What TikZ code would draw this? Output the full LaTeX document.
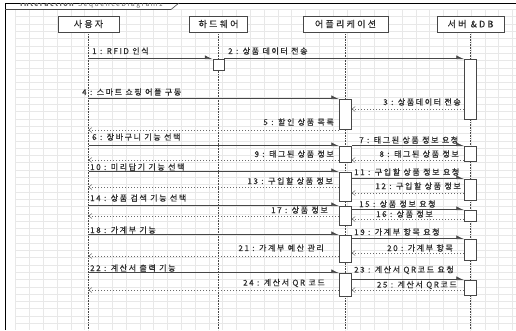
\documentclass[tikz,border=0pt]{standalone}
\usepackage{fontspec}
\setmainfont{Noto Sans CJK KR}
\newfontfamily\lblfont{Noto Sans CJK KR}[LetterSpace=20,FakeBold=0.5]
\newfontfamily\hdrfont{Noto Sans CJK KR}[LetterSpace=25,FakeBold=0.7]
\newfontfamily\ttlfont{Noto Sans CJK KR}[LetterSpace=20]
\usetikzlibrary{arrows.meta,fit}
\definecolor{gridc}{gray}{0.91}
\definecolor{linec}{gray}{0.28}
\definecolor{retc}{gray}{0.42}
\definecolor{txtc}{gray}{0.18}
\begin{document}
\begin{tikzpicture}[x=1pt,y=-1pt,
  hdr/.style={draw=linec, line width=0.8pt, fill=white, minimum height=16pt, inner sep=0pt,
    font=\hdrfont\fontsize{9}{10}\selectfont, text=txtc},
  life/.style={draw=linec, line width=0.6pt, dash pattern=on 0.8pt off 0.8pt},
  act/.style={draw=linec, line width=0.6pt, fill=white, inner sep=0pt},
  msg/.style={draw=linec, line width=0.6pt, -{Latex[length=7pt,width=7pt,harpoon]}},
  ret/.style={draw=retc, line width=0.5pt, dash pattern=on 1.5pt off 1.5pt, -{Straight Barb[length=3pt,width=5pt]}},
  lbl/.style={font=\lblfont\fontsize{8}{9}\selectfont, text=txtc, inner sep=0pt}
]
\useasboundingbox (0,0) rectangle (516,330);
\fill[white] (0,0) rectangle (516,330);
% grid
\foreach \i in {0,...,36} \draw[gridc, line width=0.4pt] (15.6+13.8*\i, 9.3) -- (15.6+13.8*\i, 330);
\foreach \j in {0,...,43} \draw[gridc, line width=0.4pt] (15.6, 9.3+7.3*\j) -- (516, 9.3+7.3*\j);
% frame
\draw[black, line width=0.8pt] (5,330) -- (5,3) -- (516,3);
\draw[linec, line width=0.6pt] (5,9.5) -- (171,9.5) -- (179,3);
\begin{scope}
  \clip (5,3.4) rectangle (516,330);
  \node[anchor=west, font=\ttlfont\fontsize{7}{8}\selectfont, text=black!60, inner sep=0pt] (title) at (20,4.2) {\textbf{Interaction} SequenceDiagram1};
\end{scope}
% headers
\node[hdr, minimum width=61pt] (U) at (88.5,24) {사용자};
\node[hdr, minimum width=58pt] (H) at (218.5,24) {하드웨어};
\node[hdr, minimum width=85pt] (A) at (345.5,24) {어플리케이션};
\node[hdr, minimum width=67pt] (S) at (470.5,24) {서버 \&DB};
\coordinate (bot) at (0,330);
\foreach \n in {U,H,A,S} \draw[life] (\n.south) -- (\n.south |- bot);
% activations
\node[act, fit={(213,59)(224,70)}] (H1) {};
\node[act, fit={(464.5,59)(476.5,119)}] (S1) {};
\node[act, fit={(339.5,99)(351.5,129)}] (A1) {};
\node[act, fit={(339.5,146)(351.5,162)}] (A2) {};
\node[act, fit={(464.5,146)(476.5,161)}] (S2) {};
\node[act, fit={(339.5,172)(351.5,201)}] (A3) {};
\node[act, fit={(464.5,179)(476.5,200)}] (S3) {};
\node[act, fit={(339.5,206)(351.5,225)}] (A4) {};
\node[act, fit={(464.5,210)(476.5,221)}] (S4) {};
\node[act, fit={(339.5,235)(351.5,262)}] (A5) {};
\node[act, fit={(464.5,239)(476.5,260)}] (S5) {};
\node[act, fit={(339.5,273)(351.5,296)}] (A6) {};
\node[act, fit={(464.5,280)(476.5,295)}] (S6) {};
% message levels
\coordinate (y3) at (0,109);
\coordinate (y5) at (0,130);
\coordinate (y8) at (0,160);
\coordinate (y12) at (0,193);
\coordinate (y13) at (0,187);
\coordinate (y16) at (0,219);
\coordinate (y17) at (0,216);
\coordinate (y20) at (0,253);
\coordinate (y21) at (0,256);
\coordinate (y24) at (0,290);
% messages
\draw[msg] (U |- H1.north west) -- (H1.north west);
\draw[msg] (H1.north east) -- (S1.north west);
\draw[ret] (S1.west |- y3) -- (A1.east |- y3);
\draw[msg] (U |- A1.north west) -- (A1.north west);
\draw[ret] (A1.west |- y5) -- (U |- y5);
\draw[msg] (U |- A2.north west) -- (A2.north west);
\draw[msg] (A2.north east) -- (S2.north west);
\draw[ret] (S2.west |- y8) -- (A2.east |- y8);
\draw[ret] (A2.west |- y8) -- (U |- y8);
\draw[msg] (U |- A3.north west) -- (A3.north west);
\draw[msg] (A3.east |- S3.north west) -- (S3.north west);
\draw[ret] (S3.west |- y12) -- (A3.east |- y12);
\draw[ret] (A3.west |- y13) -- (U |- y13);
\draw[msg] (U |- A4.north west) -- (A4.north west);
\draw[msg] (A4.east |- S4.north west) -- (S4.north west);
\draw[ret] (S4.west |- y16) -- (A4.east |- y16);
\draw[ret] (A4.west |- y17) -- (U |- y17);
\draw[msg] (U |- A5.north west) -- (A5.north west);
\draw[msg] (A5.east |- S5.north west) -- (S5.north west);
\draw[ret] (S5.west |- y20) -- (A5.east |- y20);
\draw[ret] (A5.west |- y21) -- (U |- y21);
\draw[msg] (U |- A6.north west) -- (A6.north west);
\draw[msg] (A6.east |- S6.north west) -- (S6.north west);
\draw[ret] (A6.west |- y24) -- (U |- y24);
\draw[ret] (S6.west |- y24) -- (A6.east |- y24);
% labels
\node[lbl, anchor=west] (l1) at (92,51) {1 : RFID 인식};
\node[lbl, anchor=west] (l2) at (228,51) {2 : 상품 데이터 전송};
\node[lbl, anchor=east] (l3) at (461,102) {3 : 상품데이터 전송};
\node[lbl, anchor=west] (l4) at (82,92) {4 : 스마트 쇼핑 어플 구동};
\node[lbl, anchor=east] (l5) at (334,122) {5 : 할인 상품 목록};
\node[lbl, anchor=west] (l6) at (92,137) {6 : 장바구니 기능 선택};
\node[lbl, anchor=west] (l7) at (359,140) {7 : 태그된 상품 정보 요청};
\node[lbl, anchor=east] (l8) at (459,154) {8 : 태그된 상품 정보};
\node[lbl, anchor=east] (l9) at (334,154) {9 : 태그된 상품 정보};
\node[lbl, anchor=west] (l10) at (90,167) {10 : 미리담기 기능 선택};
\node[lbl, anchor=west] (l11) at (354,172) {11 : 구입할 상품 정보 요청};
\node[lbl, anchor=east] (l12) at (461,186) {12 : 구입할 상품 정보};
\node[lbl, anchor=east] (l13) at (333,181) {13 : 구입할 상품 정보};
\node[lbl, anchor=west] (l14) at (90,198) {14 : 상품 검색 기능 선택};
\node[lbl, anchor=west] (l15) at (359,204) {15 : 상품 정보 요청};
\node[lbl, anchor=east] (l16) at (433,214) {16 : 상품 정보};
\node[lbl, anchor=east] (l17) at (328,210) {17 : 상품 정보};
\node[lbl, anchor=west] (l18) at (90,230) {18 : 가계부 기능};
\node[lbl, anchor=west] (l19) at (354,232) {19 : 가계부 항목 요청};
\node[lbl, anchor=east] (l20) at (453,248) {20 : 가계부 항목};
\node[lbl, anchor=east] (l21) at (324,248) {21 : 가계부 예산 관리};
\node[lbl, anchor=west] (l22) at (90,268) {22 : 계산서 출력 기능};
\node[lbl, anchor=west] (l23) at (354,270) {23 : 계산서 QR코드 요청};
\node[lbl, anchor=east] (l24) at (325,283) {24 : 계산서 QR 코드};
\node[lbl, anchor=east] (l25) at (457,285) {25 : 계산서 QR코드};
\end{tikzpicture}
\end{document}
